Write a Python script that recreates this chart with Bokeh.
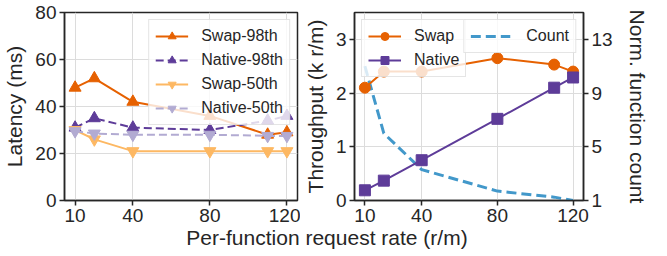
from bokeh.plotting import figure
from bokeh.models import Range1d, LinearAxis, Legend, LegendItem, FixedTicker, Div
from bokeh.layouts import row, column
from bokeh.embed import file_html
from bokeh.resources import INLINE

rates = [10, 20, 40, 80, 110, 120]
swap_p98 = [48, 52, 42, 36, 28, 29]
native_p98 = [31, 35, 31, 30, 34, 36]
swap_p50 = [30, 26, 21, 21, 21, 21]
native_p50 = [29.5, 28.5, 28, 28, 27.5, 27.5]
swap_tput = [2.1, 2.4, 2.4, 2.65, 2.53, 2.4]
native_tput = [0.19, 0.37, 0.75, 1.52, 2.1, 2.29]
func_count = [11, 6, 3.3, 1.7, 1.25, 1.0]
x_ticks = [10, 40, 80, 120]
lat_ticks = [0, 20, 40, 60, 80]
tput_ticks = [0, 1, 2, 3]
count_ticks = [1, 5, 9, 13]

FONT = "Liberation Sans"
TXT = "#262626"
C_SWAP98 = "#e66101"
C_NAT98 = "#5e3c99"
C_SWAP50 = "#fdb863"
C_NAT50 = "#b2abd2"
C_COUNT = "#4298ca"


def style_axis(ax, ticks):
    ax.ticker = FixedTicker(ticks=ticks)
    ax.minor_tick_line_color = None
    ax.major_tick_out = 5
    ax.major_tick_in = 0
    ax.major_tick_line_color = TXT
    ax.major_tick_line_width = 1.5
    ax.axis_line_color = TXT
    ax.axis_line_width = 1.5
    ax.major_label_text_font = FONT
    ax.major_label_text_font_size = "19px"
    ax.major_label_text_color = TXT
    ax.major_label_standoff = 3
    ax.axis_label_text_font = FONT
    ax.axis_label_text_font_size = "21px"
    ax.axis_label_text_font_style = "normal"
    ax.axis_label_text_color = TXT
    ax.axis_label_standoff = 6


def style_fig(p):
    p.outline_line_color = TXT
    p.outline_line_width = 1.5
    p.xgrid.grid_line_color = "#dcdcdc"
    p.ygrid.grid_line_color = "#dcdcdc"
    p.xgrid.grid_line_width = 1
    p.ygrid.grid_line_width = 1
    p.background_fill_color = "white"
    p.border_fill_color = "white"


def style_legend(lg):
    lg.label_text_font = FONT
    lg.label_text_font_size = "16px"
    lg.label_text_color = TXT
    lg.glyph_width = 33
    lg.glyph_height = 20
    lg.label_standoff = 13
    lg.spacing = 4
    lg.padding = 6
    lg.margin = 7
    lg.border_line_color = "#cccccc"
    lg.border_line_width = 1
    lg.background_fill_color = "white"
    lg.background_fill_alpha = 0.8


H = 224
TOP = 12

# ---------------- left: latency ----------------
p1 = figure(width=300, height=H, x_range=Range1d(4.5, 125.5), y_range=Range1d(0, 80),
            output_backend="svg", toolbar_location=None,
            min_border_left=63, min_border_right=3, min_border_top=TOP, min_border_bottom=0)
style_fig(p1)
style_axis(p1.xaxis[0], x_ticks)
style_axis(p1.yaxis[0], lat_ticks)
p1.yaxis.axis_label = "Latency (ms)"

l1 = p1.line(rates, swap_p98, line_color=C_SWAP98, line_width=2)
m1 = p1.scatter(rates, swap_p98, marker="triangle", size=12, color=C_SWAP98)
l2 = p1.line(rates, native_p98, line_color=C_NAT98, line_width=2, line_dash="8 4")
m2 = p1.scatter(rates, native_p98, marker="triangle", size=12, color=C_NAT98)
l3 = p1.line(rates, swap_p50, line_color=C_SWAP50, line_width=2)
m3 = p1.scatter(rates, swap_p50, marker="inverted_triangle", size=12, color=C_SWAP50)
l4 = p1.line(rates, native_p50, line_color=C_NAT50, line_width=2, line_dash="8 4")
m4 = p1.scatter(rates, native_p50, marker="inverted_triangle", size=12, color=C_NAT50)

lg1 = Legend(items=[LegendItem(label="Swap-98th", renderers=[l1, m1]),
                    LegendItem(label="Native-98th", renderers=[l2, m2]),
                    LegendItem(label="Swap-50th", renderers=[l3, m3]),
                    LegendItem(label="Native-50th", renderers=[l4, m4])],
             location="top_right")
style_legend(lg1)
p1.add_layout(lg1)

# ---------------- right: throughput + count ----------------
p2 = figure(width=351, height=H, x_range=Range1d(4.5, 125.5), y_range=Range1d(0, 3.5),
            output_backend="svg", toolbar_location=None,
            min_border_left=51, min_border_right=67, min_border_top=TOP, min_border_bottom=0)
style_fig(p2)
style_axis(p2.xaxis[0], x_ticks)
style_axis(p2.yaxis[0], tput_ticks)
p2.yaxis.axis_label = "Throughput (k r/m)"
p2.extra_y_ranges = {"count": Range1d(1, 15)}
ax_r = LinearAxis(y_range_name="count", axis_label="Norm. function count")
style_axis(ax_r, count_ticks)
ax_r.axis_label_standoff = 10
p2.add_layout(ax_r, "right")

lc = p2.line(rates, func_count, y_range_name="count", line_color=C_COUNT, line_width=3, line_dash="10 5")
ls = p2.line(rates, swap_tput, line_color=C_SWAP98, line_width=2)
ms = p2.scatter(rates, swap_tput, marker="circle", size=11, color=C_SWAP98)
ln = p2.line(rates, native_tput, line_color=C_NAT98, line_width=2)
mn = p2.scatter(rates, native_tput, marker="square", size=11, color=C_NAT98)

lg2 = Legend(items=[LegendItem(label="Swap", renderers=[ls, ms]),
                    LegendItem(label="Native", renderers=[ln, mn])],
             location="top_left")
style_legend(lg2)
p2.add_layout(lg2)
lg3 = Legend(items=[LegendItem(label="Count", renderers=[lc])], location="top_right")
style_legend(lg3)
lg3.glyph_width = 40
lg3.label_standoff = 16
p2.add_layout(lg3)

xlabel = Div(text="Per-function request rate (r/m)", width=644, height=22,
             styles={"text-align": "center", "font-size": "21px", "font-family": FONT,
                     "color": TXT, "line-height": "18px", "width": "644px"})

layout = column(row(p1, p2), xlabel)
open("out.html", "w").write(file_html(layout, INLINE))
